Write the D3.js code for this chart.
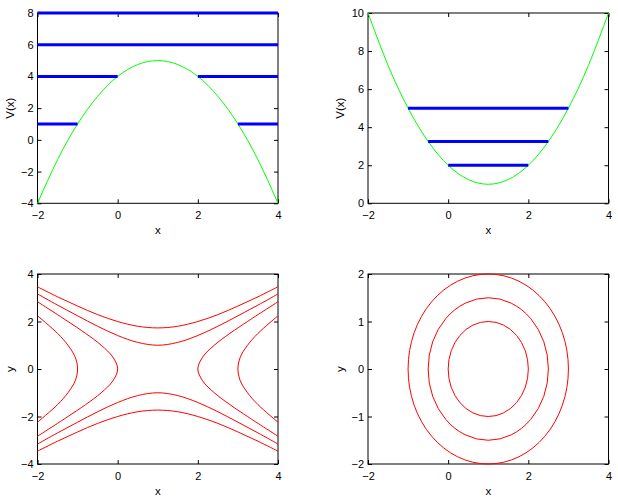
<!DOCTYPE html>
<html><head><meta charset="utf-8">
<script src="https://cdn.jsdelivr.net/npm/d3@7"></script>
<style>
body{margin:0;background:#fff;}
svg{display:block;font-family:"Liberation Sans",Arial,sans-serif;}
</style></head>
<body>
<svg id="c" width="618" height="498"></svg>
<script>
// ---------- data ----------
const xTicks = [-2, 0, 2, 4];
const yTicksTL = [-4, -2, 0, 2, 4, 6, 8];
const yTicksTR = [0, 2, 4, 6, 8, 10];
const yTicksBL = [-4, -2, 0, 2, 4];
const yTicksBR = [-2, -1, 0, 1, 2];

// potential (top-left), read at x = -2 .. 4 step 0.5
const potX = [-2, -1.5, -1, -0.5, 0, 0.5, 1, 1.5, 2, 2.5, 3, 3.5, 4];
const potHill = [-4, -1.25, 1, 2.75, 4, 4.75, 5, 4.75, 4, 2.75, 1, -1.25, -4];
const potWell = [10, 7.25, 5, 3.25, 2, 1.25, 1, 1.25, 2, 3.25, 5, 7.25, 10];

// energy-level segments [x0, x1, E]
const levelsHill = [[-2, -1, 1], [3, 4, 1], [-2, 0, 4], [2, 4, 4], [-2, 4, 6], [-2, 4, 8]];
const levelsWell = [[0, 2, 2], [-0.5, 2.5, 3.25], [-1, 3, 5]];

// phase curves (bottom-left), each a list of [x, y]
const phaseHill = [
  [[-2,3.46],[-1.5,3.04],[-1,2.65],[-0.5,2.29],[0,2],[0.5,1.80],[1,1.73],[1.5,1.80],[2,2],[2.5,2.29],[3,2.65],[3.5,3.04],[4,3.46]],
  [[-2,-3.46],[-1.5,-3.04],[-1,-2.65],[-0.5,-2.29],[0,-2],[0.5,-1.80],[1,-1.73],[1.5,-1.80],[2,-2],[2.5,-2.29],[3,-2.65],[3.5,-3.04],[4,-3.46]],
  [[-2,3.16],[-1.5,2.69],[-1,2.24],[-0.5,1.80],[0,1.41],[0.5,1.12],[1,1],[1.5,1.12],[2,1.41],[2.5,1.80],[3,2.24],[3.5,2.69],[4,3.16]],
  [[-2,-3.16],[-1.5,-2.69],[-1,-2.24],[-0.5,-1.80],[0,-1.41],[0.5,-1.12],[1,-1],[1.5,-1.12],[2,-1.41],[2.5,-1.80],[3,-2.24],[3.5,-2.69],[4,-3.16]],
  [[-2,2.83],[-1.5,2.29],[-1.24,2],[-0.80,1.5],[-0.41,1],[-0.12,0.5],[0,0],[-0.12,-0.5],[-0.41,-1],[-0.80,-1.5],[-1.24,-2],[-1.5,-2.29],[-2,-2.83]],
  [[4,2.83],[3.5,2.29],[3.24,2],[2.80,1.5],[2.41,1],[2.12,0.5],[2,0],[2.12,-0.5],[2.41,-1],[2.80,-1.5],[3.24,-2],[3.5,-2.29],[4,-2.83]],
  [[-2,2.24],[-1.5,1.5],[-1.24,1],[-1.06,0.5],[-1,0],[-1.06,-0.5],[-1.24,-1],[-1.5,-1.5],[-2,-2.24]],
  [[4,2.24],[3.5,1.5],[3.24,1],[3.06,0.5],[3,0],[3.06,-0.5],[3.24,-1],[3.5,-1.5],[4,-2.24]]
];
// closed orbits (bottom-right): centre and radii
const orbitCentre = [1, 0];
const orbitRadii = [1, 1.5, 2];

// ---------- drawing ----------
const svg = d3.select("#c");
const FS = 11;
const FSL = 11.5;

function panel(x0, x1, y0, y1, xdom, ydom, yticks, ylab, xlab) {
  const x = d3.scaleLinear().domain(xdom).range([x0, x1]);
  const y = d3.scaleLinear().domain(ydom).range([y1, y0]);
  const g = svg.append("g");
  const marks = svg.append("g");
  const tk = 4;
  const ax = (a) => a.tickSizeInner(-tk).tickSizeOuter(0);
  const fmt = d => (d < 0 ? "\u2212" + Math.abs(d) : String(d));
  g.append("g").attr("transform", `translate(0,${y1})`)
    .call(ax(d3.axisBottom(x).tickValues(xTicks).tickFormat(fmt).tickPadding(8)));
  g.append("g").attr("transform", `translate(0,${y0})`)
    .call(ax(d3.axisTop(x).tickValues(xTicks).tickFormat("")));
  g.append("g").attr("transform", `translate(${x0},0)`)
    .call(ax(d3.axisLeft(y).tickValues(yticks).tickFormat(fmt).tickPadding(4)));
  g.append("g").attr("transform", `translate(${x1},0)`)
    .call(ax(d3.axisRight(y).tickValues(yticks).tickFormat("")));
  g.selectAll(".domain").remove();
  g.selectAll(".tick line").attr("stroke", "#000");
  g.selectAll("text").attr("font-size", FS).attr("font-family", "Liberation Sans, Arial, sans-serif").attr("fill", "#000");
  g.append("rect").attr("x", x0).attr("y", y0).attr("width", x1 - x0).attr("height", y1 - y0)
    .attr("fill", "none").attr("stroke", "#000").attr("stroke-width", 1);
  g.append("text").attr("x", (x0 + x1) / 2).attr("y", y1 + 31).attr("text-anchor", "middle")
    .attr("font-size", FSL).text(xlab);
  g.append("text").attr("transform", `translate(${x0 - 24},${(y0 + y1) / 2}) rotate(-90)`)
    .attr("text-anchor", "middle").attr("font-size", FSL).text(ylab);
  return { x, y, marks };
}

// top-left
{
  const p = panel(37.5, 278, 13, 203.3, [-2, 4], [-4, 8], yTicksTL, "V(x)", "x");
  const line = d3.line().x((d, i) => p.x(potX[i])).y(d => p.y(d)).curve(d3.curveNatural);
  p.marks.append("path").attr("d", line(potHill)).attr("fill", "none").attr("stroke", "#00ff00").attr("stroke-width", 1);
  p.marks.selectAll("line.lv").data(levelsHill).enter().append("line")
    .attr("x1", d => p.x(d[0])).attr("x2", d => p.x(d[1]))
    .attr("y1", d => p.y(d[2])).attr("y2", d => p.y(d[2]))
    .attr("stroke", "#0000ff").attr("stroke-width", 3);
}
// top-right
{
  const p = panel(368, 608.5, 13, 203.3, [-2, 4], [0, 10], yTicksTR, "V(x)", "x");
  const line = d3.line().x((d, i) => p.x(potX[i])).y(d => p.y(d)).curve(d3.curveNatural);
  p.marks.append("path").attr("d", line(potWell)).attr("fill", "none").attr("stroke", "#00ff00").attr("stroke-width", 1);
  p.marks.selectAll("line.lv").data(levelsWell).enter().append("line")
    .attr("x1", d => p.x(d[0])).attr("x2", d => p.x(d[1]))
    .attr("y1", d => p.y(d[2])).attr("y2", d => p.y(d[2]))
    .attr("stroke", "#0000ff").attr("stroke-width", 3);
}
// bottom-left
{
  const p = panel(37.5, 278, 274, 464, [-2, 4], [-4, 4], yTicksBL, "y", "x");
  const line = d3.line().x(d => p.x(d[0])).y(d => p.y(d[1])).curve(d3.curveCatmullRom.alpha(0.5));
  p.marks.selectAll("path.ph").data(phaseHill).enter().append("path")
    .attr("d", d => line(d)).attr("fill", "none").attr("stroke", "#ff0000").attr("stroke-width", 1);
}
// bottom-right
{
  const p = panel(368, 608.5, 274, 464, [-2, 4], [-2, 2], yTicksBR, "y", "x");
  p.marks.selectAll("ellipse").data(orbitRadii).enter().append("ellipse")
    .attr("cx", p.x(orbitCentre[0])).attr("cy", p.y(orbitCentre[1]))
    .attr("rx", r => p.x(orbitCentre[0] + r) - p.x(orbitCentre[0]))
    .attr("ry", r => p.y(orbitCentre[1]) - p.y(orbitCentre[1] + r))
    .attr("fill", "none").attr("stroke", "#ff0000").attr("stroke-width", 1);
}
</script>
</body></html>
